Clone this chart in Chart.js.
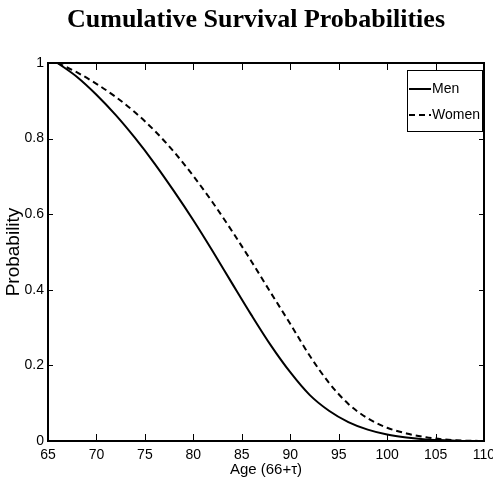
<!DOCTYPE html>
<html>
<head>
<meta charset="utf-8">
<script src="https://cdn.jsdelivr.net/npm/chart.js@4"></script>
<style>
html, body { margin: 0; padding: 0; background: #fff; }
</style>
</head>
<body>
<canvas id="survivalChart" width="493" height="498"></canvas>
<script>
// values
const chartTitle = "Cumulative Survival Probabilities";
const ages = [66, 68, 70, 72, 74, 76, 78, 80, 82, 84, 86, 88, 90, 92, 94, 96, 98, 100, 102, 104, 106, 108, 110];
const menSurvival = [1.000, 0.963, 0.916, 0.862, 0.801, 0.734, 0.661, 0.584, 0.502, 0.417, 0.333, 0.253, 0.182, 0.122, 0.080, 0.050, 0.030, 0.017, 0.009, 0.004, 0.002, 0.000, 0.000];
const womenSurvival = [1.000, 0.975, 0.945, 0.910, 0.869, 0.821, 0.765, 0.701, 0.631, 0.555, 0.475, 0.392, 0.310, 0.226, 0.154, 0.098, 0.060, 0.035, 0.020, 0.010, 0.004, 0.001, 0.000];
const xTickValues = [65, 70, 75, 80, 85, 90, 95, 100, 105, 110];
const yTickValues = [0, 0.2, 0.4, 0.6, 0.8, 1];

const sansFont = '"Liberation Sans", Arial, sans-serif';

// MATLAB style box, inward ticks, title and boxed legend
const framePlugin = {
    id: "frame",
    afterDraw(chart) {
        const { ctx, chartArea: a, scales } = chart;
        const x = scales.x, y = scales.y;
        ctx.save();

        ctx.strokeStyle = "#000";
        ctx.lineWidth = 2;
        ctx.beginPath();
        ctx.moveTo(a.left, a.top);
        ctx.lineTo(a.right, a.top);
        ctx.lineTo(a.right, a.bottom);
        ctx.stroke();

        ctx.lineWidth = 1;
        ctx.beginPath();
        x.ticks.forEach(t => {
            const px = Math.round(x.getPixelForValue(t.value)) + 0.5;
            ctx.moveTo(px, a.bottom); ctx.lineTo(px, a.bottom - 7);
            ctx.moveTo(px, a.top); ctx.lineTo(px, a.top + 7);
        });
        y.ticks.forEach(t => {
            const py = Math.round(y.getPixelForValue(t.value)) + 0.5;
            ctx.moveTo(a.left, py); ctx.lineTo(a.left + 5, py);
            ctx.moveTo(a.right, py); ctx.lineTo(a.right - 5, py);
        });
        ctx.stroke();

        // title
        ctx.fillStyle = "#000";
        ctx.font = 'bold 26px "Liberation Serif", "Times New Roman", serif';
        ctx.textAlign = "center";
        ctx.textBaseline = "alphabetic";
        ctx.fillText(chartTitle, 256, 27);

        // legend box
        const lx = 407, ly = 70, lw = 75, lh = 61;
        ctx.fillStyle = "#fff";
        ctx.fillRect(lx, ly, lw, lh);
        ctx.lineWidth = 1;
        ctx.strokeStyle = "#000";
        ctx.strokeRect(lx + 0.5, ly + 0.5, lw, lh);

        ctx.font = "14px " + sansFont;
        ctx.textAlign = "left";
        ctx.textBaseline = "middle";
        chart.data.datasets.forEach((ds, i) => {
            const rowY = ly + 19 + i * 26;
            ctx.beginPath();
            ctx.lineWidth = ds.borderWidth;
            ctx.setLineDash(ds.borderDash || []);
            ctx.moveTo(lx + 2, rowY);
            ctx.lineTo(lx + 24, rowY);
            ctx.stroke();
            ctx.setLineDash([]);
            ctx.fillStyle = "#000";
            ctx.fillText(ds.label, lx + 25, rowY);
        });

        ctx.restore();
    }
};

const canvas = document.getElementById("survivalChart");

new Chart(canvas, {
    type: "line",
    data: {
        datasets: [
            {
                label: "Men",
                data: ages.map((a, i) => ({ x: a, y: menSurvival[i] })),
                borderColor: "#000",
                borderWidth: 2,
                pointRadius: 0,
                cubicInterpolationMode: "monotone",
                fill: false
            },
            {
                label: "Women",
                data: ages.map((a, i) => ({ x: a, y: womenSurvival[i] })),
                borderColor: "#000",
                borderWidth: 2,
                borderDash: [6, 4],
                pointRadius: 0,
                cubicInterpolationMode: "monotone",
                fill: false
            }
        ]
    },
    options: {
        responsive: false,
        animation: false,
        devicePixelRatio: 1,
        layout: { padding: { top: 63, right: 9, left: 0, bottom: 0 } },
        plugins: {
            legend: { display: false },
            tooltip: { enabled: false }
        },
        scales: {
            x: {
                type: "linear",
                min: 65,
                max: 110,
                afterBuildTicks: scale => { scale.ticks = xTickValues.map(v => ({ value: v })); },
                afterFit: scale => { scale.height = 57; scale.paddingLeft = 0; scale.paddingRight = 0; },
                grid: { display: true, drawOnChartArea: false, drawTicks: false },
                border: { display: true, color: "#000", width: 2 },
                ticks: {
                    color: "#000",
                    padding: 6,
                    maxRotation: 0,
                    autoSkip: false,
                    callback: v => String(v),
                    font: { family: sansFont, size: 14 }
                },
                title: {
                    display: true,
                    text: "Age (66+\u03c4)",
                    color: "#000",
                    font: { family: sansFont, size: 15 },
                    padding: { top: 19, bottom: 19 }
                }
            },
            y: {
                min: 0,
                max: 1,
                afterBuildTicks: scale => { scale.ticks = yTickValues.map(v => ({ value: v })); },
                afterFit: scale => { scale.width = 48; },
                grid: { display: true, drawOnChartArea: false, drawTicks: false },
                border: { display: true, color: "#000", width: 2 },
                ticks: {
                    color: "#000",
                    padding: 4,
                    callback: v => String(v),
                    font: { family: sansFont, size: 14 }
                },
                title: {
                    display: true,
                    text: "Probability",
                    color: "#000",
                    font: { family: sansFont, size: 19 },
                    padding: { top: 2, bottom: 2 }
                }
            }
        }
    },
    plugins: [framePlugin]
});
</script>
</body>
</html>
